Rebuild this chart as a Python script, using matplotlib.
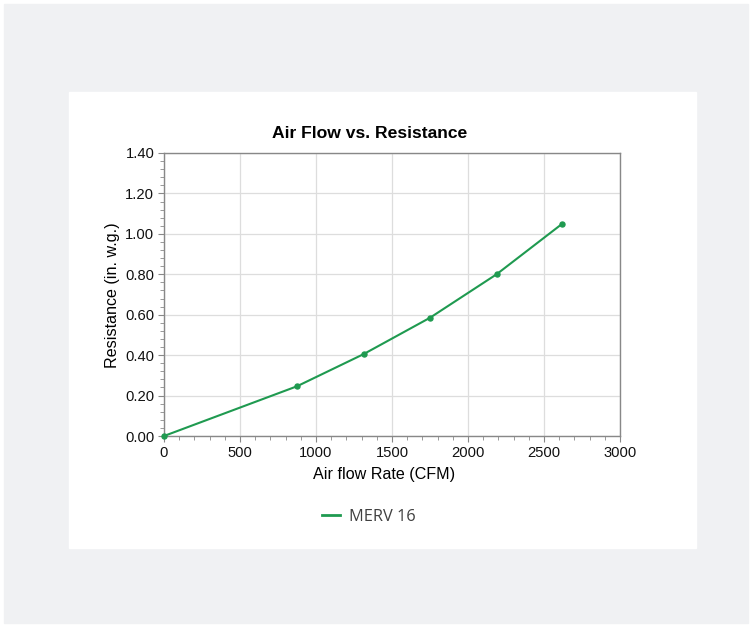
import matplotlib
matplotlib.use("Agg")
from matplotlib import pyplot as plt
from matplotlib.patches import Rectangle
from matplotlib.lines import Line2D
from matplotlib.ticker import MultipleLocator, FormatStrFormatter

# data
flow_cfm = [0, 875, 1313, 1750, 2188, 2620]
resistance = [0.0, 0.246, 0.405, 0.585, 0.80, 1.05]
series_name = "MERV 16"

green = "#1f9a50"
plt.rcParams["font.family"] = ["Liberation Sans", "DejaVu Sans"]

fig = plt.figure(figsize=(7.52, 6.27), dpi=100)
fig.patch.set_facecolor("white")

# grey backdrop and white card
fig.patches.append(Rectangle((4 / 752, 4 / 627), 744 / 752, 619 / 627,
                             transform=fig.transFigure, color="#f0f1f3", zorder=-3))
fig.patches.append(Rectangle((69 / 752, 1 - 548 / 627), 627 / 752, 456 / 627,
                             transform=fig.transFigure, color="white", zorder=-2))

ax = fig.add_axes([164 / 752, 1 - 436 / 627, 456 / 752, 283 / 627])
ax.set_facecolor("white")
ax.plot(flow_cfm, resistance, color=green, lw=1.5, marker="o", ms=3.6,
        clip_on=False, zorder=3)

ax.set_xlim(0, 3000)
ax.set_ylim(0, 1.4)
ax.xaxis.set_major_locator(MultipleLocator(500))
ax.xaxis.set_minor_locator(MultipleLocator(100))
ax.yaxis.set_major_locator(MultipleLocator(0.2))
ax.yaxis.set_minor_locator(MultipleLocator(0.04))
ax.yaxis.set_major_formatter(FormatStrFormatter("%.2f"))

ax.grid(True, which="major", color="#dddddd", lw=0.9)
ax.set_axisbelow(True)
for s in ax.spines.values():
    s.set_color("#888888")
    s.set_linewidth(1)
ax.tick_params(which="both", colors="#888888", labelcolor="#111111",
               labelsize=10.6, direction="out")
ax.tick_params(which="major", length=4, pad=3)
ax.tick_params(which="minor", length=3)

fig.text(370 / 752, 1 - 133 / 627, "Air Flow vs. Resistance", fontsize=12.6,
         fontweight="bold", ha="center", va="center")
ax.set_xlabel("Air flow Rate (CFM)", fontsize=11.6)
ax.xaxis.set_label_coords(384 / 752, 1 - 467 / 627, transform=fig.transFigure)
ax.set_ylabel("Resistance (in. w.g.)", fontsize=11.6)
ax.yaxis.set_label_coords(120 / 752, 1 - 295 / 627, transform=fig.transFigure)

handle = Line2D([], [], color=green, lw=2)
leg = fig.legend([handle], [series_name], loc="center",
                 bbox_to_anchor=(369 / 752, 1 - 517 / 627),
                 frameon=False, handlelength=1.1, handletextpad=0.55,
                 prop={"family": "Open Sans", "size": 11.8})
for t in leg.get_texts():
    t.set_color("#404040")

fig.savefig("out.png", dpi=100)
